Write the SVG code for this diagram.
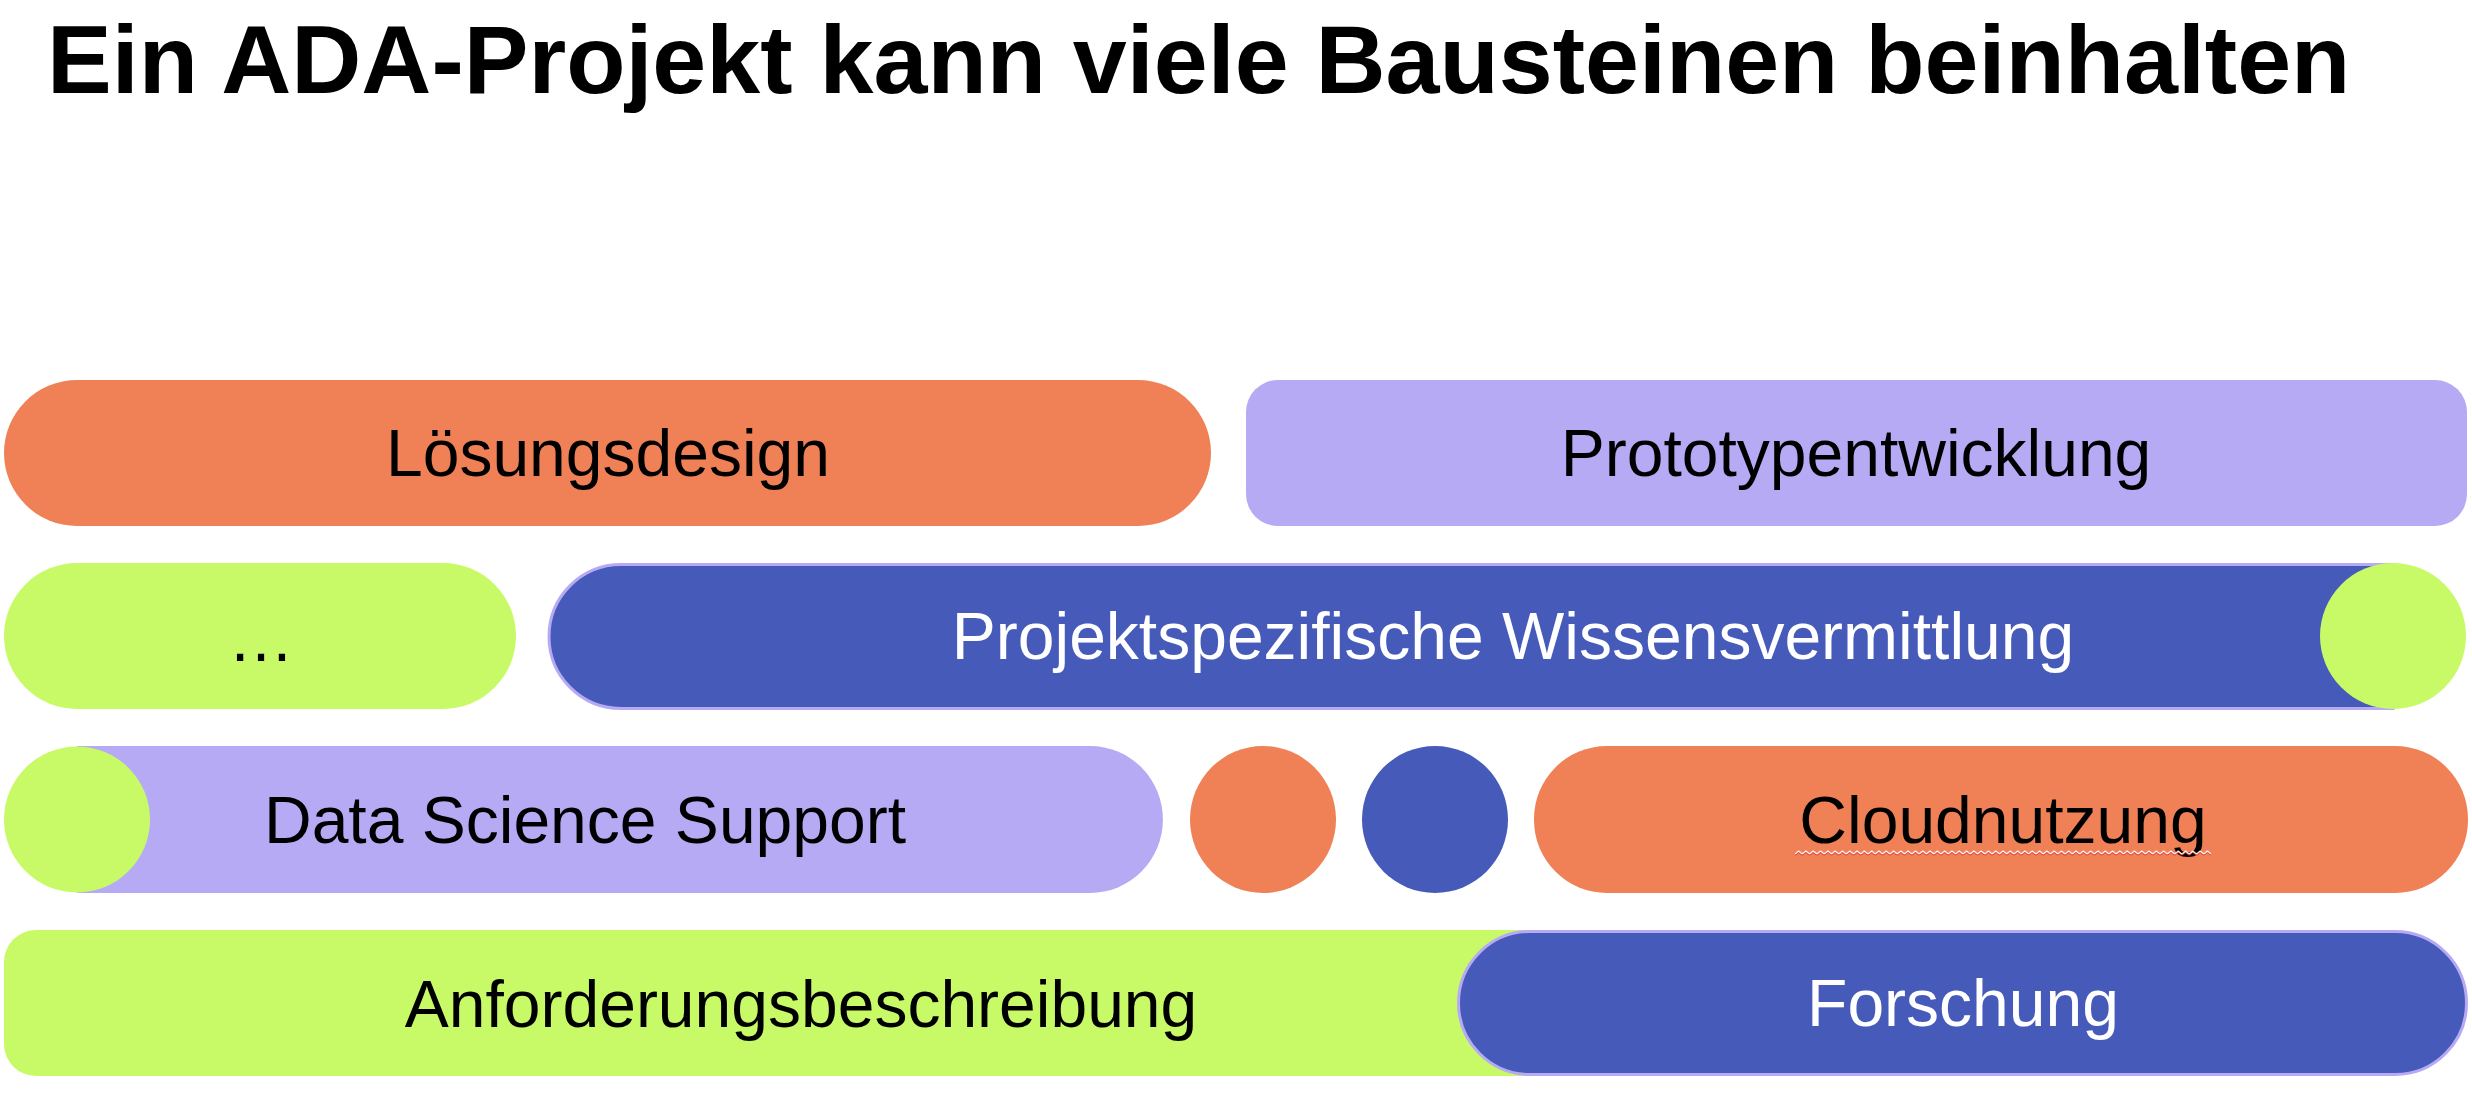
<svg xmlns="http://www.w3.org/2000/svg" width="2472" height="1106" viewBox="0 0 2472 1106">
<style>
  .t { font-family: "Liberation Sans", Arial, sans-serif; font-size: 66px; text-anchor: middle; fill: #000; }
  .w { fill: #fff; }
  .title { font-family: "Liberation Sans", Arial, sans-serif; font-size: 97px; font-weight: bold; fill: #000; }
  .orange { fill: #F08056; }
  .lav { fill: #B7AAF4; }
  .green { fill: #C8FA68; }
  .blue { fill: #465BB9; }
  .bstroke { stroke: #B7AAF4; stroke-width: 3; }
</style>
<defs>
  <pattern id="wavy" x="1795" y="850" width="7.3" height="7" patternUnits="userSpaceOnUse">
    <path d="M0,5 L3.65,2 L7.3,5" fill="none" stroke="#E0322A" stroke-width="1.6"/>
    <path d="M0,4 L3.65,1 L7.3,4" fill="none" stroke="#FFFFFF" stroke-width="1.3"/>
  </pattern>
</defs>
<rect width="2472" height="1106" fill="#fff"/>
<text class="title" x="47" y="93">Ein ADA-Projekt kann viele Bausteinen beinhalten</text>

<g id="connectors"></g>

<g id="loesungsdesign">
  <rect class="orange" x="4" y="380" width="1207" height="146" rx="73"/>
  <text class="t" x="608" y="476">Lösungsdesign</text>
</g>
<g id="prototypentwicklung">
  <rect class="lav" x="1246" y="380" width="1221" height="146" rx="32"/>
  <text class="t" x="1856" y="476">Prototypentwicklung</text>
</g>

<g id="ellipsis">
  <rect class="green" x="4" y="563" width="512" height="146" rx="73"/>
  <text class="t" x="261" y="661">…</text>
</g>
<g id="wissensvermittlung">
  <path class="blue bstroke" d="M2393,564.5 L621,564.5 A72,72 0 0 0 621,708.5 L2393,708.5 Z"/>
  <circle class="green" cx="2393" cy="636" r="73"/>
  <text class="t w" x="1513" y="659">Projektspezifische Wissensvermittlung</text>
</g>

<g id="datascience">
  <path class="lav" d="M77,746 L1090,746 A73,73.5 0 0 1 1090,893 L77,893 Z"/>
  <circle class="green" cx="77" cy="819.5" r="73"/>
  <text class="t" x="585" y="843">Data Science Support</text>
</g>
<g id="dot-orange">
  <ellipse class="orange" cx="1263" cy="819.5" rx="73" ry="73.5"/>
</g>
<g id="dot-blue">
  <ellipse class="blue" cx="1435" cy="819.5" rx="73" ry="73.5"/>
</g>
<g id="cloudnutzung">
  <rect class="orange" x="1534" y="746" width="934" height="147" rx="73"/>
  <text class="t" x="2003" y="843">Cloudnutzung</text>
  <rect x="1795" y="850" width="416" height="7" fill="url(#wavy)"/>
</g>

<g id="anforderungsbeschreibung">
  <rect class="green" x="4" y="930" width="1600" height="146" rx="32"/>
  <text class="t" x="801" y="1027">Anforderungsbeschreibung</text>
</g>
<g id="forschung">
  <rect class="blue bstroke" x="1458.5" y="931.5" width="1008" height="143" rx="71.5"/>
  <text class="t w" x="1963" y="1026">Forschung</text>
</g>
</svg>
